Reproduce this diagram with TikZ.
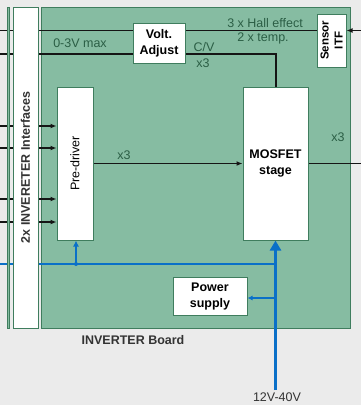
\documentclass[tikz,border=0pt]{standalone}
\usepackage{fontspec}
\setmainfont{Liberation Sans}
\usetikzlibrary{arrows.meta}
\definecolor{bgc}{HTML}{EBEBEB}
\definecolor{brdfill}{HTML}{86BCA2}
\definecolor{brdline}{HTML}{3F7D5E}
\definecolor{lblc}{HTML}{2B5E45}
\definecolor{pwr}{HTML}{0A70C8}
\definecolor{wirec}{HTML}{151515}
\definecolor{txtc}{HTML}{333333}
\newcommand\myfs{\fontsize{12.5}{16}\selectfont}
\pgfdeclarelayer{boardlayer}
\pgfdeclarelayer{linelayer}
\pgfsetlayers{boardlayer,linelayer,main}
\begin{document}
\begin{tikzpicture}[x=1pt,y=-1pt,
  whitebox/.style={draw=brdline, line width=1pt, fill=white, inner sep=0pt},
  boxtxt/.style={font=\myfs\bfseries, align=center, text=black},
  lbl/.style={font=\myfs, text=lblc, inner sep=0pt},
  wire/.style={draw=wirec, line width=1.3pt},
  thickwire/.style={draw=wirec, line width=2pt},
  tip/.style={-{Latex[length=6pt,width=5pt]}},
  pwrbig/.style={draw=pwr, line width=3.5pt, -{Triangle[length=10pt,width=11pt]}},
  pwrmid/.style={draw=pwr, line width=2pt},
  pwrarr/.style={draw=pwr, line width=2pt, -{Latex[length=6pt,width=6pt]}},
  pwrthin/.style={draw=pwr, line width=1.5pt, -{Latex[length=5pt,width=5pt]}},
  boardbox/.style={draw=brdline, line width=1pt, fill=brdfill, inner sep=0pt}
]
\useasboundingbox (0,0) rectangle (361,405);

% ---------- board layer ----------
\begin{pgfonlayer}{boardlayer}
  \fill[bgc] (0,0) rectangle (361,405);
  \node[boardbox, minimum width=309pt, minimum height=321pt] (board) at (195.5,167.5) {};
\end{pgfonlayer}

% ---------- boxes ----------
\node[boardbox, minimum width=2.5pt, minimum height=321pt] (strip) at (8.25,167.5) {};
\node[whitebox, minimum width=25pt, minimum height=321pt] (iface) at (25.5,167.5) {};
\node[rotate=90, font=\myfs\bfseries, text=txtc] (ifacetxt) at (iface.center) {2x INVERETER Interfaces};

\node[whitebox, boxtxt, minimum width=52pt, minimum height=40pt] (volt) at (159,43) {Volt.\\Adjust};
\node[whitebox, minimum width=29pt, minimum height=53pt] (sensor) at (331.5,40.5) {};
\node[rotate=90, font=\fontsize{11.5}{14}\selectfont\bfseries, align=center] (sensortxt) at (sensor.center) {Sensor\\ITF};

\node[whitebox, minimum width=36pt, minimum height=153pt] (pred) at (75,163.5) {};
\node[rotate=90, font=\myfs] (predtxt) at (pred.center) {Pre-driver};

\node[whitebox, boxtxt, minimum width=65pt, minimum height=153pt] (mos) at (275.5,163.5) {MOSFET\\stage};
\node[whitebox, boxtxt, minimum width=74pt, minimum height=38pt] (power) at (210,296) {Power\\supply};

% ---------- labels ----------
\node[lbl] (t1) at (80,43) {0-3V max};
\node[lbl] (t2) at (265,23) {3 x Hall effect};
\node[lbl] (t3) at (263,38) {2 x temp.};
\node[lbl] (t4) at (204,47) {C/V};
\node[lbl] (t5) at (203,63) {x3};
\node[lbl] (t6) at (124,155) {x3};
\node[lbl] (t7) at (338,137) {x3};
\node[font=\myfs\bfseries, text=txtc] (t8) at (133,340) {INVERTER Board};
\node[font=\myfs, text=txtc] (t9) at (277,397) {12V-40V};

% ---------- connectors ----------
\coordinate (l1) at (0,30.5);
\coordinate (l2) at (0,54);
\coordinate (a1) at (0,126);
\coordinate (a2) at (0,148);
\coordinate (a3) at (0,199);
\coordinate (a4) at (0,222);
\coordinate (sIn) at (361,30.5);
\coordinate (outE) at (361,163.5);
\coordinate (vin) at (275.5,390);
\coordinate (bl) at (0,264);
\coordinate (bj) at (275.5,264);
\coordinate (pj) at (76,264);
\coordinate (pp) at (275.5,298);

\begin{pgfonlayer}{linelayer}
  \draw[wire] (l1) -- (l1 -| sensor.west);
  \draw[wire] (l2) -- (l2 -| volt.west);
  \draw[thickwire] (volt.east |- l2) -- (l2 -| mos.north) -- (mos.north);
  \foreach \c in {a1,a2,a3,a4} \draw[wire,tip] (\c) -- (\c -| pred.west);
  \draw[wire,tip] (pred.east) -- (mos.west);
  \draw[wire] (mos.east) -- (outE);
  \draw[wire,tip] (sIn) -- (sIn -| sensor.east);
  \draw[pwrmid] (bl) -- (bj);
  \draw[pwrarr] (pj) -- (pj |- pred.south);
  \fill[pwr] (pj) circle (2pt);
  \draw[pwrbig] (vin) -- (mos.south);
  \draw[pwrthin] (pp) -- (pp -| power.east);
\end{pgfonlayer}
\end{tikzpicture}
\end{document}
